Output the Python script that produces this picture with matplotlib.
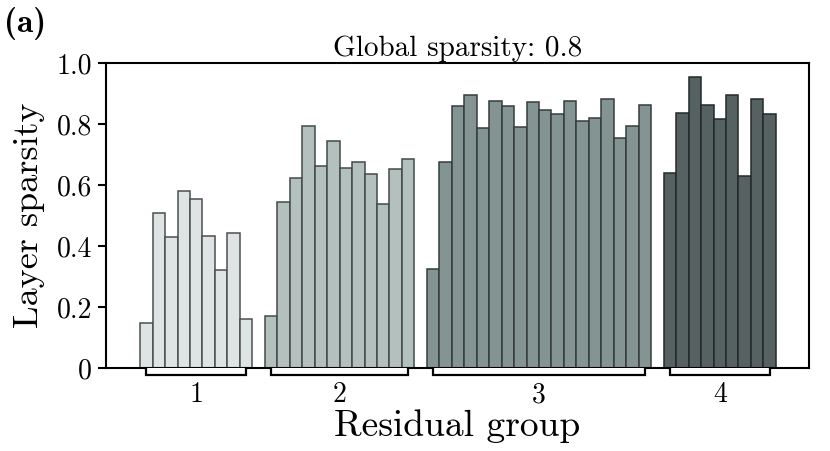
import matplotlib
matplotlib.use("Agg")
import matplotlib.pyplot as plt
from matplotlib.patches import Polygon

plt.rcParams['font.family'] = 'serif'
plt.rcParams['font.serif'] = ['cmr10']
plt.rcParams['mathtext.fontset'] = 'cm'
plt.rcParams['axes.formatter.use_mathtext'] = True

# layer sparsity per residual group
group1 = [0.149, 0.508, 0.431, 0.582, 0.554, 0.434, 0.323, 0.444, 0.161]
group2 = [0.170, 0.543, 0.623, 0.793, 0.661, 0.743, 0.655, 0.675, 0.635, 0.539, 0.654, 0.685]
group3 = [0.326, 0.675, 0.859, 0.897, 0.786, 0.877, 0.859, 0.792, 0.871, 0.847,
          0.832, 0.875, 0.810, 0.821, 0.884, 0.753, 0.795, 0.864]
group4 = [0.641, 0.837, 0.953, 0.864, 0.817, 0.896, 0.630, 0.883, 0.833]
group_labels = ['1', '2', '3', '4']
face_colors = ['#dee3e3', '#b3c0bd', '#849492', '#566262']
edge_colors = ['#4a5050', '#414a48', '#343d3c', '#222929']

ytick_vals = [0, 0.2, 0.4, 0.6, 0.8, 1.0]
ytick_labels = ['0', '0.2', '0.4', '0.6', '0.8', '1.0']

fig = plt.figure(figsize=(8.3, 4.51), dpi=100)
ax = fig.add_axes([0.1277, 0.184, 0.847, 0.676])

groups = [group1, group2, group3, group4]
start = 0
spans = []
for g, vals in enumerate(groups):
    xs = [start + i for i in range(len(vals))]
    ax.bar(xs, vals, width=1.0, color=face_colors[g], edgecolor=edge_colors[g],
           linewidth=1.1, zorder=2)
    spans.append((xs[0], xs[-1]))
    start = xs[-1] + 2

ax.set_xlim(-3.24, start - 2 + 2.66 + 0.5)
ax.set_ylim(0, 1.0)
ax.set_yticks(ytick_vals)
ax.set_yticklabels(ytick_labels, fontsize=20)
ax.set_xticks([])
ax.tick_params(axis='y', direction='out', length=6, width=1.5, pad=4)
for s in ax.spines.values():
    s.set_linewidth(1.5)

# brackets under each group
for (a, b), lab in zip(spans, group_labels):
    br = Polygon([(a, 0), (a, -0.024), (b, -0.024), (b, 0)], closed=False,
                 facecolor='white', edgecolor='black', linewidth=1.6, clip_on=False, zorder=3)
    ax.add_patch(br)
    ax.text((a + b) / 2, -0.045, lab, ha='center', va='top', fontsize=20)

ax.set_title('Global sparsity: 0.8', fontsize=21, pad=5)
ax.set_ylabel('Layer sparsity', fontsize=26, labelpad=8)
ax.set_xlabel('Residual group', fontsize=27, labelpad=30)

fig.text(0.005, 0.985, '(a)', fontname='cmb10', fontsize=24, ha='left', va='top')

fig.savefig('out.png', dpi=100)
